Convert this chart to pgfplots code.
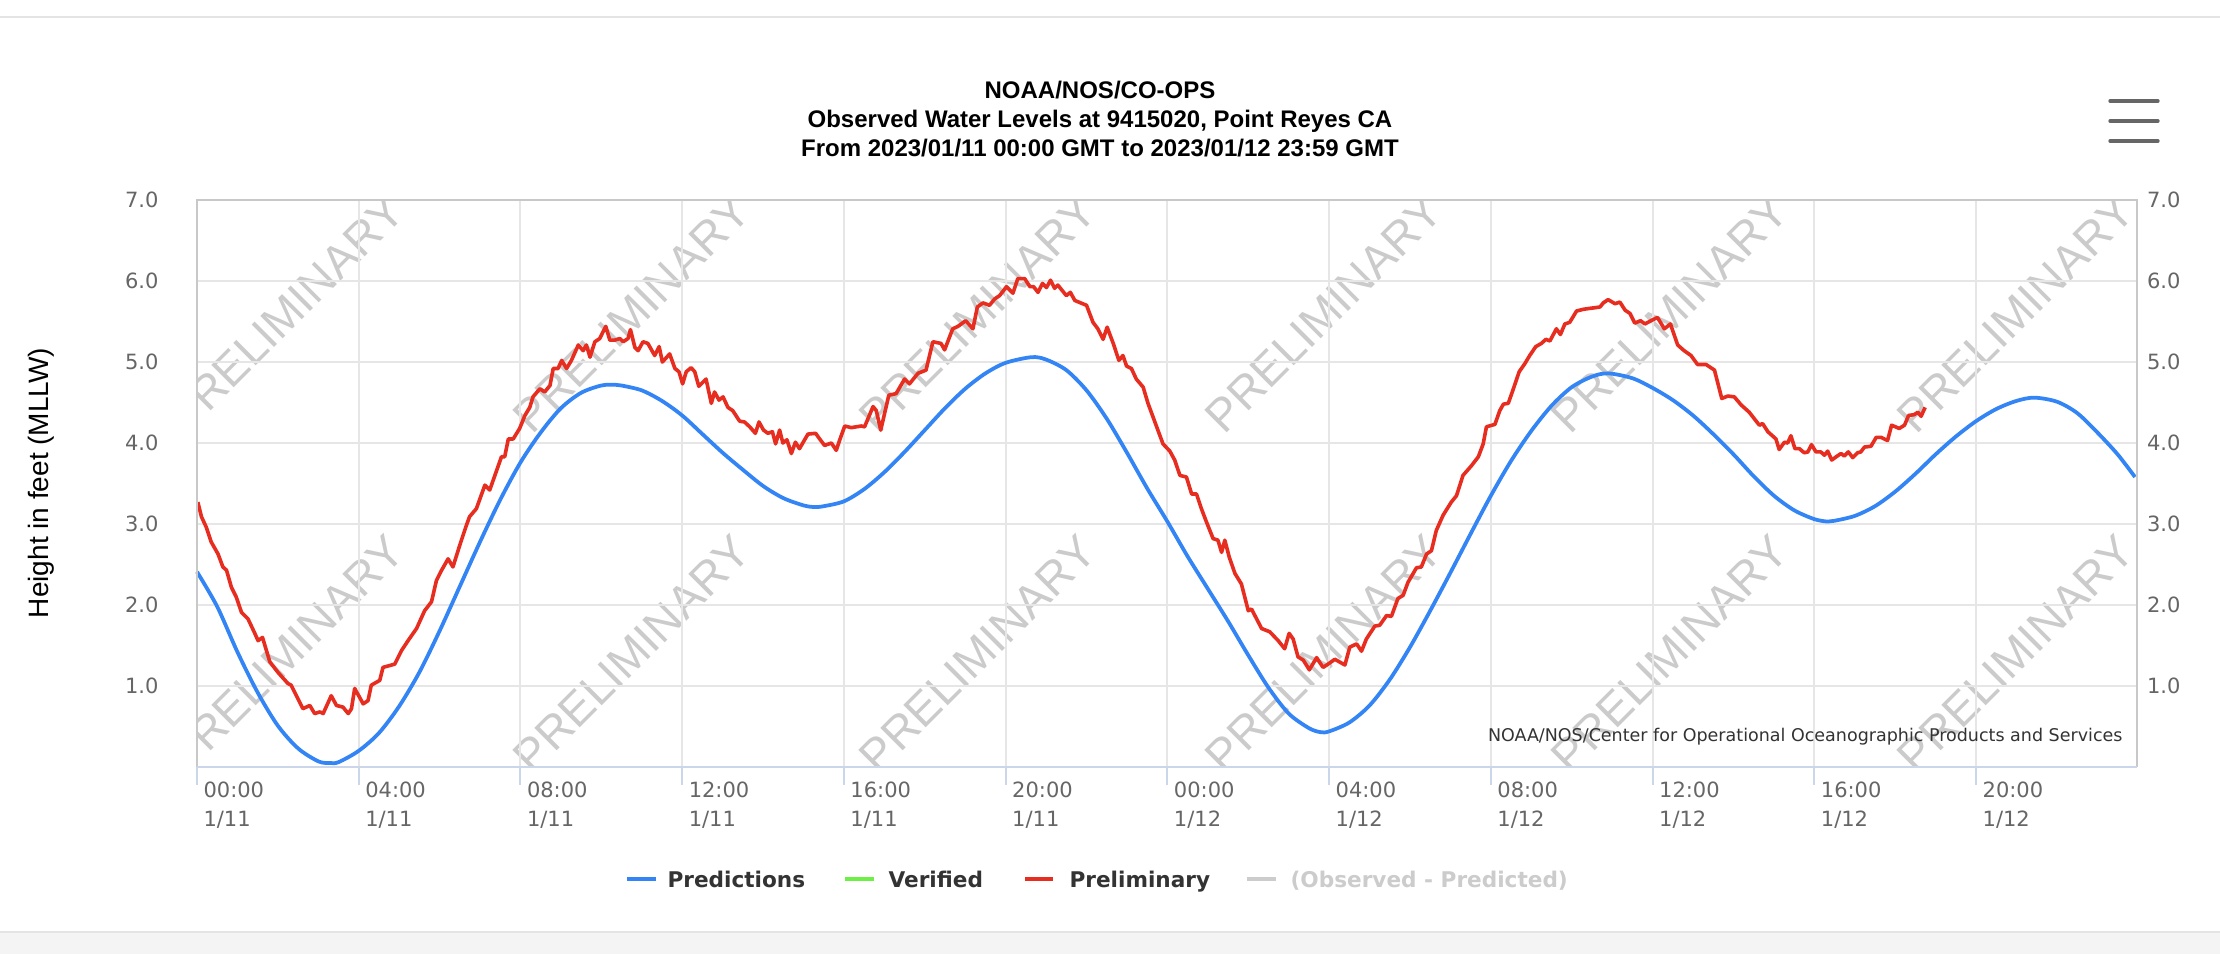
\documentclass[border=0pt]{standalone}
\usepackage{fontspec}
\setmainfont{Liberation Sans}
\newfontfamily\dejavu{DejaVu Sans}
\usepackage{pgfplots}
\pgfplotsset{compat=1.18}
\usepackage{pgfplotstable}

\definecolor{predblue}{HTML}{3385F5}
\definecolor{prelred}{HTML}{E62D1F}
\definecolor{verigreen}{HTML}{6CF046}
\definecolor{wmgray}{HTML}{CBCBCB}
\definecolor{gridgray}{HTML}{E6E6E6}
\definecolor{bordergray}{HTML}{C8C8C8}
\definecolor{axisblue}{HTML}{CCD6EB}
\definecolor{ticktext}{HTML}{666666}
\definecolor{darktext}{HTML}{333333}
\definecolor{legendgray}{HTML}{CCCCCC}
\definecolor{pageline}{HTML}{E4E4E4}
\definecolor{pageband}{HTML}{F4F4F4}

\pgfplotstableread{
h v
0 2.41
0.5 1.98
1.0 1.42
1.5 0.92
2.0 0.51
2.5 0.23
3.0 0.07
3.28 0.05
3.5 0.06
4.0 0.20
4.5 0.42
5.0 0.75
5.5 1.17
6.0 1.68
6.5 2.23
7.0 2.78
7.5 3.30
8.0 3.76
8.5 4.13
9.0 4.43
9.5 4.62
10.0 4.71
10.33 4.72
10.5 4.71
11.0 4.65
11.5 4.52
12.0 4.34
12.5 4.11
13.0 3.88
13.5 3.67
14.0 3.47
14.5 3.32
15.0 3.23
15.27 3.21
15.5 3.22
16.0 3.28
16.5 3.43
17.0 3.64
17.5 3.89
18.0 4.16
18.5 4.43
19.0 4.67
19.5 4.86
20.0 4.99
20.64 5.06
21.0 5.03
21.5 4.90
22.0 4.65
22.5 4.30
23.0 3.88
23.5 3.44
24.0 3.03
24.5 2.60
25.0 2.20
25.5 1.80
26.0 1.38
26.5 0.98
27.0 0.66
27.5 0.48
27.79 0.43
28.0 0.44
28.5 0.55
29.0 0.76
29.5 1.08
30.0 1.48
30.5 1.93
31.0 2.40
31.5 2.88
32.0 3.35
32.5 3.78
33.0 4.15
33.5 4.46
34.0 4.69
34.5 4.82
34.9 4.86
35.5 4.80
36.0 4.68
36.5 4.53
37.0 4.34
37.5 4.11
38.0 3.86
38.5 3.59
39.0 3.35
39.5 3.17
40.0 3.06
40.33 3.03
40.5 3.04
41.0 3.10
41.5 3.22
42.0 3.40
42.5 3.62
43.0 3.86
43.5 4.08
44.0 4.27
44.5 4.42
45.0 4.52
45.44 4.56
46.0 4.51
46.5 4.37
47.0 4.13
47.5 3.86
47.93 3.58
}\predtable

\pgfplotstableread{
h v
0.02 3.27
0.11 3.09
0.23 2.96
0.35 2.78
0.52 2.63
0.64 2.47
0.73 2.43
0.85 2.22
0.97 2.10
1.10 1.91
1.26 1.83
1.43 1.65
1.51 1.56
1.62 1.60
1.80 1.30
2.00 1.17
2.25 1.03
2.33 1.01
2.62 0.72
2.79 0.76
2.91 0.66
3.04 0.68
3.12 0.66
3.32 0.88
3.45 0.76
3.61 0.74
3.74 0.66
3.82 0.72
3.90 0.97
4.11 0.78
4.23 0.82
4.31 1.01
4.52 1.07
4.60 1.23
4.89 1.27
5.06 1.44
5.22 1.56
5.43 1.71
5.63 1.93
5.80 2.04
5.92 2.30
6.05 2.43
6.21 2.57
6.33 2.47
6.50 2.74
6.66 2.98
6.74 3.09
6.91 3.19
7.12 3.48
7.24 3.42
7.41 3.66
7.53 3.83
7.61 3.83
7.70 4.05
7.82 4.05
7.98 4.18
8.11 4.34
8.23 4.44
8.31 4.57
8.48 4.67
8.60 4.63
8.73 4.71
8.81 4.92
8.93 4.92
9.02 5.02
9.14 4.92
9.26 5.02
9.43 5.21
9.55 5.14
9.63 5.21
9.72 5.06
9.84 5.25
9.96 5.29
10.11 5.44
10.21 5.27
10.33 5.27
10.46 5.29
10.54 5.25
10.66 5.29
10.72 5.40
10.83 5.18
10.91 5.14
11.03 5.25
11.15 5.23
11.32 5.08
11.43 5.19
11.51 5.00
11.69 5.10
11.82 4.92
11.92 4.88
12.01 4.73
12.10 4.88
12.22 4.93
12.31 4.88
12.41 4.70
12.59 4.79
12.72 4.49
12.80 4.63
12.91 4.53
13.01 4.57
13.13 4.44
13.25 4.40
13.42 4.27
13.54 4.26
13.67 4.20
13.81 4.12
13.90 4.26
14.01 4.16
14.12 4.12
14.23 4.14
14.31 3.99
14.41 4.16
14.49 4.00
14.59 4.04
14.70 3.87
14.80 4.01
14.90 3.93
15.11 4.11
15.30 4.12
15.40 4.05
15.52 3.97
15.69 4.00
15.81 3.91
15.89 4.03
16.02 4.21
16.18 4.19
16.43 4.21
16.51 4.20
16.72 4.45
16.80 4.40
16.91 4.16
17.11 4.59
17.29 4.61
17.50 4.79
17.62 4.73
17.83 4.86
18.03 4.90
18.20 5.25
18.40 5.23
18.49 5.15
18.69 5.41
18.82 5.44
19.01 5.51
19.19 5.41
19.30 5.68
19.44 5.73
19.60 5.70
19.73 5.78
19.85 5.82
20.02 5.93
20.18 5.85
20.30 6.03
20.47 6.03
20.60 5.93
20.69 5.93
20.80 5.86
20.91 5.97
21.01 5.92
21.11 6.01
21.21 5.91
21.29 5.95
21.50 5.82
21.60 5.86
21.71 5.76
22.00 5.70
22.16 5.49
22.28 5.41
22.41 5.28
22.51 5.43
22.66 5.23
22.80 5.02
22.90 5.08
22.99 4.95
23.11 4.92
23.23 4.79
23.40 4.69
23.52 4.49
23.69 4.26
23.89 3.99
24.06 3.90
24.18 3.79
24.31 3.60
24.47 3.58
24.60 3.37
24.72 3.37
24.84 3.19
24.97 3.02
25.13 2.82
25.25 2.80
25.34 2.65
25.42 2.80
25.53 2.59
25.67 2.39
25.83 2.26
26.00 1.93
26.08 1.95
26.33 1.71
26.53 1.67
26.74 1.56
26.90 1.46
27.01 1.65
27.11 1.58
27.23 1.36
27.36 1.32
27.51 1.20
27.69 1.35
27.85 1.23
28.00 1.28
28.14 1.33
28.39 1.26
28.51 1.48
28.68 1.52
28.80 1.43
28.92 1.58
29.13 1.74
29.25 1.75
29.42 1.87
29.54 1.86
29.70 2.08
29.83 2.12
29.95 2.28
30.16 2.46
30.28 2.47
30.41 2.63
30.53 2.67
30.65 2.92
30.82 3.11
31.02 3.27
31.15 3.35
31.31 3.60
31.52 3.72
31.69 3.83
31.81 3.99
31.89 4.20
32.10 4.23
32.22 4.40
32.31 4.48
32.43 4.49
32.55 4.66
32.70 4.88
32.84 4.98
32.96 5.08
33.11 5.19
33.25 5.23
33.36 5.28
33.46 5.26
33.62 5.41
33.72 5.34
33.83 5.47
33.95 5.49
34.12 5.63
34.28 5.65
34.41 5.66
34.57 5.67
34.70 5.68
34.78 5.73
34.90 5.77
35.07 5.72
35.19 5.74
35.32 5.64
35.44 5.60
35.56 5.48
35.70 5.51
35.81 5.47
35.96 5.51
36.12 5.55
36.29 5.41
36.44 5.47
36.62 5.21
36.78 5.14
36.95 5.08
37.11 4.97
37.32 4.97
37.53 4.90
37.71 4.55
37.86 4.58
38.02 4.57
38.19 4.47
38.39 4.38
38.64 4.22
38.72 4.24
38.85 4.14
39.05 4.05
39.13 3.92
39.26 4.01
39.34 4.00
39.42 4.09
39.52 3.93
39.63 3.93
39.75 3.88
39.84 3.89
39.93 3.98
40.04 3.89
40.16 3.89
40.25 3.85
40.33 3.90
40.43 3.79
40.54 3.83
40.66 3.87
40.74 3.84
40.84 3.89
40.95 3.82
41.07 3.88
41.15 3.89
41.24 3.95
41.40 3.96
41.53 4.07
41.65 4.07
41.81 4.03
41.91 4.22
42.10 4.18
42.23 4.22
42.33 4.34
42.47 4.35
42.56 4.38
42.64 4.33
42.74 4.44
}\preltable

\begin{document}
\begin{tikzpicture}
% ---------- page background, watermarks (pixel coordinates, y downwards) ----------
\begin{scope}[x=0.36pt,y=-0.36pt]
  \useasboundingbox (0,0) rectangle (2220,954);
  \fill[white] (0,0) rectangle (2220,954);
  \draw[pageline, line width=0.6pt] (0,17) -- (2220,17);
  \fill[pageband] (0,932) rectangle (2220,954);
  \draw[pageline, line width=0.6pt] (0,932) -- (2220,932);
  \begin{scope}
    \clip (197,200) rectangle (2137,767);
    \foreach \k in {0,...,5} {
      \node[rotate=45, anchor=base west, inner sep=0pt, text=wmgray,
            font=\fontsize{16.6}{17}\selectfont] at (186+346*\k,436) {PRELIMINARY};
      \node[rotate=45, anchor=base west, inner sep=0pt, text=wmgray,
            font=\fontsize{16.6}{17}\selectfont] at (186+346*\k,776) {PRELIMINARY};
    }
  \end{scope}
\end{scope}

% ---------- main axis ----------
\begin{axis}[
  at={(70.92pt,-276.12pt)}, anchor=south west,
  scale only axis, width=698.4pt, height=204.12pt,
  xmin=0, xmax=47.98, ymin=0, ymax=7,
  clip=false,
  axis line style={draw=none},
  tick style={draw=none},
  grid=major,
  major grid style={gridgray, line width=0.72pt},
  xtick={0,4,8,12,16,20,24,28,32,36,40,44},
  xticklabels={{00:00\\1/11},{04:00\\1/11},{08:00\\1/11},{12:00\\1/11},{16:00\\1/11},{20:00\\1/11},
               {00:00\\1/12},{04:00\\1/12},{08:00\\1/12},{12:00\\1/12},{16:00\\1/12},{20:00\\1/12}},
  xticklabel style={anchor=north west, align=left, inner sep=0pt, xshift=2.16pt, yshift=-5pt,
                    text=ticktext, font=\dejavu\fontsize{7.56}{10.44}\selectfont},
  ytick={1,2,3,4,5,6,7},
  yticklabels={1.0,2.0,3.0,4.0,5.0,6.0,7.0},
  yticklabel style={anchor=east, inner sep=0pt, xshift=-13.68pt,
                    text=ticktext, font=\dejavu\fontsize{7.56}{9}\selectfont},
]
\addplot[predblue, line width=1.35pt, smooth, line join=round] table[x=h,y=v]{\predtable};
\addplot[prelred, line width=1.3pt, line join=round] table[x=h,y=v]{\preltable};
\draw[bordergray, line width=0.72pt] (rel axis cs:0,0) -- (rel axis cs:0,1) -- (rel axis cs:1,1) -- (rel axis cs:1,0);
\draw[axisblue, line width=0.72pt] (rel axis cs:0,0) -- (rel axis cs:1,0);
\pgfplotsinvokeforeach{0,4,8,12,16,20,24,28,32,36,40,44}{
  \draw[axisblue, line width=0.72pt] (axis cs:#1,0) -- ++(0pt,-6.5pt);
}
\end{axis}

% ---------- right-hand y labels ----------
\begin{axis}[
  at={(70.92pt,-276.12pt)}, anchor=south west,
  scale only axis, width=698.4pt, height=204.12pt,
  xmin=0, xmax=47.98, ymin=0, ymax=7,
  axis line style={draw=none},
  tick style={draw=none},
  xtick=\empty,
  ytick={1,2,3,4,5,6,7},
  yticklabels={1.0,2.0,3.0,4.0,5.0,6.0,7.0},
  yticklabel pos=right,
  yticklabel style={anchor=west, inner sep=0pt, xshift=3.42pt,
                    text=ticktext, font=\dejavu\fontsize{7.56}{9}\selectfont},
]
\end{axis}

% ---------- titles, legend, credits ----------
\begin{scope}[x=0.36pt,y=-0.36pt]
  \node[anchor=base, inner sep=0pt, font=\bfseries\fontsize{8.64}{10}\selectfont] at (1100,98.6) {NOAA/NOS/CO-OPS};
  \node[anchor=base, inner sep=0pt, font=\bfseries\fontsize{8.64}{10}\selectfont] at (1100,127.6) {Observed Water Levels at 9415020, Point Reyes CA};
  \node[anchor=base, inner sep=0pt, font=\bfseries\fontsize{8.64}{10}\selectfont] at (1100,156.3) {From 2023/01/11 00:00 GMT to 2023/01/12 23:59 GMT};
  \node[rotate=90, anchor=base, inner sep=0pt, font=\fontsize{10.08}{12}\selectfont] at (48,483) {Height in feet (MLLW)};
  \node[anchor=base east, inner sep=0pt, text=darktext, font=\dejavu\fontsize{6.3}{7}\selectfont] at (2123,741.4)
     {NOAA/NOS/Center for Operational Oceanographic Products and Services};
  % hamburger menu
  \foreach \yy in {101,121,141} {
    \draw[ticktext, line width=1.2pt, line cap=round] (2110,\yy) -- (2158,\yy);
  }
  % legend
  \draw[predblue, line width=1.3pt] (627,879) -- (656,879);
  \node[anchor=base west, inner sep=0pt, text=darktext, font=\dejavu\bfseries\fontsize{7.78}{9}\selectfont] at (667,887) {Predictions};
  \draw[verigreen, line width=1.3pt] (845,879) -- (874,879);
  \node[anchor=base west, inner sep=0pt, text=darktext, font=\dejavu\bfseries\fontsize{7.78}{9}\selectfont] at (888,887) {Verified};
  \draw[prelred, line width=1.3pt] (1025,879) -- (1053,879);
  \node[anchor=base west, inner sep=0pt, text=darktext, font=\dejavu\bfseries\fontsize{7.78}{9}\selectfont] at (1069,887) {Preliminary};
  \draw[legendgray, line width=1.3pt] (1247,879) -- (1276,879);
  \node[anchor=base west, inner sep=0pt, text=legendgray, font=\dejavu\bfseries\fontsize{7.78}{9}\selectfont] at (1290,887) {(Observed - Predicted)};
\end{scope}
\end{tikzpicture}
\end{document}
